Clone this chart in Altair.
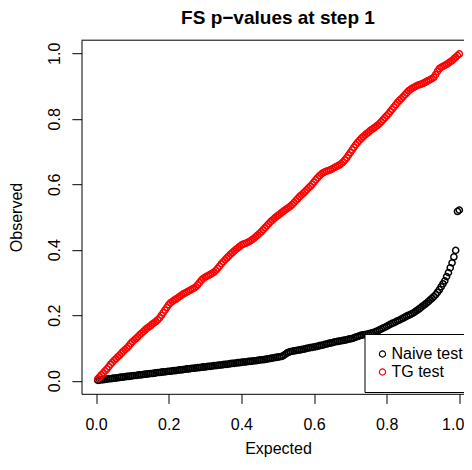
import altair as alt
import pandas as pd

# Expected (uniform) quantiles on the x axis
expected = [
    0.005, 0.010, 0.015, 0.020, 0.025, 0.030, 0.035, 0.040, 0.045, 0.050, 0.055, 0.060, 0.065, 0.070, 0.075, 0.080, 0.085, 0.090, 0.095, 0.100,
    0.105, 0.110, 0.115, 0.120, 0.125, 0.130, 0.135, 0.140, 0.145, 0.150, 0.155, 0.160, 0.165, 0.170, 0.175, 0.180, 0.185, 0.190, 0.195, 0.200,
    0.205, 0.210, 0.215, 0.220, 0.225, 0.230, 0.235, 0.240, 0.245, 0.250, 0.255, 0.260, 0.265, 0.270, 0.275, 0.280, 0.285, 0.290, 0.295, 0.300,
    0.305, 0.310, 0.315, 0.320, 0.325, 0.330, 0.335, 0.340, 0.345, 0.350, 0.355, 0.360, 0.365, 0.370, 0.375, 0.380, 0.385, 0.390, 0.395, 0.400,
    0.405, 0.410, 0.415, 0.420, 0.425, 0.430, 0.435, 0.440, 0.445, 0.450, 0.455, 0.460, 0.465, 0.470, 0.475, 0.480, 0.485, 0.490, 0.495, 0.500,
    0.505, 0.510, 0.515, 0.520, 0.525, 0.530, 0.535, 0.540, 0.545, 0.550, 0.555, 0.560, 0.565, 0.570, 0.575, 0.580, 0.585, 0.590, 0.595, 0.600,
    0.605, 0.610, 0.615, 0.620, 0.625, 0.630, 0.635, 0.640, 0.645, 0.650, 0.655, 0.660, 0.665, 0.670, 0.675, 0.680, 0.685, 0.690, 0.695, 0.700,
    0.705, 0.710, 0.715, 0.720, 0.725, 0.730, 0.735, 0.740, 0.745, 0.750, 0.755, 0.760, 0.765, 0.770, 0.775, 0.780, 0.785, 0.790, 0.795, 0.800,
    0.805, 0.810, 0.815, 0.820, 0.825, 0.830, 0.835, 0.840, 0.845, 0.850, 0.855, 0.860, 0.865, 0.870, 0.875, 0.880, 0.885, 0.890, 0.895, 0.900,
    0.905, 0.910, 0.915, 0.920, 0.925, 0.930, 0.935, 0.940, 0.945, 0.950, 0.955, 0.960, 0.965, 0.970, 0.975, 0.980, 0.985, 0.990, 0.995, 1.000,
]

# Observed sorted p-values, naive test (black)
naive = [
    0.001, 0.002, 0.003, 0.003, 0.004, 0.005, 0.006, 0.006, 0.007, 0.008, 0.008, 0.009, 0.010, 0.011, 0.011, 0.012, 0.013, 0.013, 0.014, 0.015,
    0.016, 0.016, 0.017, 0.018, 0.018, 0.019, 0.020, 0.020, 0.021, 0.022, 0.022, 0.023, 0.024, 0.025, 0.025, 0.026, 0.027, 0.027, 0.028, 0.029,
    0.029, 0.030, 0.031, 0.031, 0.032, 0.033, 0.033, 0.034, 0.035, 0.036, 0.036, 0.037, 0.038, 0.038, 0.039, 0.040, 0.040, 0.041, 0.042, 0.042,
    0.043, 0.044, 0.044, 0.045, 0.046, 0.046, 0.047, 0.048, 0.048, 0.049, 0.050, 0.050, 0.051, 0.052, 0.053, 0.053, 0.054, 0.055, 0.055, 0.056,
    0.057, 0.057, 0.058, 0.059, 0.059, 0.060, 0.061, 0.061, 0.062, 0.063, 0.064, 0.064, 0.065, 0.066, 0.067, 0.068, 0.069, 0.070, 0.071, 0.072,
    0.073, 0.074, 0.076, 0.080, 0.084, 0.087, 0.089, 0.090, 0.091, 0.092, 0.093, 0.094, 0.095, 0.096, 0.097, 0.099, 0.100, 0.101, 0.102, 0.103,
    0.104, 0.105, 0.107, 0.108, 0.109, 0.111, 0.112, 0.114, 0.115, 0.116, 0.118, 0.119, 0.120, 0.121, 0.122, 0.123, 0.124, 0.125, 0.127, 0.128,
    0.129, 0.131, 0.133, 0.135, 0.137, 0.139, 0.140, 0.141, 0.142, 0.143, 0.145, 0.146, 0.148, 0.150, 0.152, 0.155, 0.158, 0.161, 0.163, 0.166,
    0.169, 0.172, 0.175, 0.177, 0.180, 0.183, 0.185, 0.188, 0.191, 0.194, 0.197, 0.200, 0.202, 0.205, 0.208, 0.212, 0.216, 0.220, 0.224, 0.229,
    0.233, 0.237, 0.242, 0.247, 0.252, 0.257, 0.263, 0.270, 0.278, 0.287, 0.296, 0.305, 0.318, 0.330, 0.345, 0.360, 0.378, 0.398, 0.517, 0.521,
]

# Observed sorted p-values, TG test (red)
tg = [
    0.006, 0.012, 0.018, 0.024, 0.030, 0.036, 0.043, 0.050, 0.056, 0.062, 0.067, 0.073, 0.078, 0.084, 0.090, 0.095, 0.100, 0.106, 0.113, 0.119,
    0.124, 0.129, 0.134, 0.140, 0.145, 0.150, 0.155, 0.160, 0.164, 0.168, 0.173, 0.177, 0.181, 0.186, 0.192, 0.200, 0.208, 0.216, 0.224, 0.232,
    0.238, 0.242, 0.246, 0.249, 0.253, 0.257, 0.261, 0.265, 0.268, 0.271, 0.274, 0.277, 0.280, 0.283, 0.287, 0.293, 0.300, 0.307, 0.312, 0.316,
    0.319, 0.322, 0.325, 0.328, 0.332, 0.337, 0.343, 0.350, 0.357, 0.363, 0.369, 0.375, 0.380, 0.386, 0.391, 0.396, 0.401, 0.405, 0.410, 0.414,
    0.417, 0.419, 0.421, 0.424, 0.427, 0.431, 0.435, 0.440, 0.445, 0.450, 0.455, 0.461, 0.467, 0.473, 0.479, 0.485, 0.490, 0.495, 0.500, 0.504,
    0.508, 0.513, 0.517, 0.521, 0.525, 0.529, 0.533, 0.538, 0.544, 0.550, 0.556, 0.562, 0.567, 0.572, 0.577, 0.583, 0.589, 0.594, 0.600, 0.607,
    0.614, 0.620, 0.626, 0.631, 0.635, 0.638, 0.640, 0.642, 0.644, 0.647, 0.650, 0.653, 0.656, 0.659, 0.663, 0.668, 0.674, 0.681, 0.689, 0.697,
    0.705, 0.713, 0.721, 0.728, 0.734, 0.740, 0.745, 0.750, 0.755, 0.759, 0.764, 0.768, 0.772, 0.776, 0.780, 0.785, 0.791, 0.797, 0.803, 0.809,
    0.815, 0.822, 0.829, 0.836, 0.843, 0.850, 0.856, 0.861, 0.867, 0.873, 0.879, 0.885, 0.889, 0.893, 0.896, 0.899, 0.902, 0.904, 0.906, 0.908,
    0.911, 0.914, 0.917, 0.920, 0.923, 0.927, 0.935, 0.945, 0.953, 0.957, 0.960, 0.963, 0.966, 0.970, 0.974, 0.978, 0.983, 0.988, 0.993, 0.998,
]

title_text = "FS p\u2212values at step 1"
series_names = ["Naive test", "TG test"]
series_colors = ["black", "red"]
x_ticks = [0.0, 0.2, 0.4, 0.6, 0.8, 1.0]
y_ticks = [0.0, 0.2, 0.4, 0.6, 0.8, 1.0]

rows = []
for name, vals in zip(series_names, [naive, tg]):
    for e, o in zip(expected, vals):
        rows.append({"Expected": e, "Observed": o, "test": name})
df = pd.DataFrame(rows)

FONT = "Liberation Sans"
W, H = 382.5, 353.6          # plot area; whole svg = 456 x 450
X_MAX = -0.04 + W / 363.3    # keeps 363.3 px per unit, box runs off the right edge

points = alt.Chart(df).mark_point(
    filled=False, size=38, strokeWidth=1.5, opacity=1, clip=True
).encode(
    x=alt.X(
        "Expected:Q",
        scale=alt.Scale(domain=[-0.04, X_MAX], nice=False, zero=False),
        axis=alt.Axis(
            values=x_ticks, format=".1f", title="Expected", grid=False,
            domain=True, domainColor="black", domainWidth=1,
            ticks=True, tickColor="black", tickSize=9.6, tickWidth=1,
            labelPadding=13, labelFontSize=16, labelFont=FONT, labelColor="black",
            labelFlush=6, labelFlushOffset=4.5, labelOverlap=False, labelBaseline="top",
            titleFontSize=16, titleFont=FONT, titleFontWeight="normal", titleColor="black",
            titleX=196.5, titleY=63, titleBaseline="bottom", titleAlign="center",
        ),
    ),
    y=alt.Y(
        "Observed:Q",
        scale=alt.Scale(domain=[-0.04, 1.04], nice=False, zero=False),
        axis=alt.Axis(
            values=y_ticks, format=".1f", title="Observed", grid=False,
            domain=True, domainColor="black", domainWidth=1,
            ticks=True, tickColor="black", tickSize=9.6, tickWidth=1,
            labelAngle=270, labelAlign="center", labelBaseline="bottom",
            labelPadding=9, labelFontSize=16, labelFont=FONT, labelColor="black",
            labelFlush=False, labelOverlap=False,
            titleFontSize=16, titleFont=FONT, titleFontWeight="normal", titleColor="black",
            titleAngle=270, titleX=-65.5, titleY=H / 2, titleBaseline="middle", titleAlign="center",
        ),
    ),
    color=alt.Color(
        "test:N",
        scale=alt.Scale(domain=series_names, range=series_colors),
        legend=alt.Legend(
            title=None, orient="none", legendX=283.0, legendY=293.8,
            strokeColor="black", fillColor="white", padding=12,
            symbolType="circle", symbolSize=38, symbolStrokeWidth=1.2,
            symbolOffset=-2,
            labelFontSize=16, labelFont=FONT, labelColor="black",
            labelOffset=1, rowPadding=2,
        ),
    ),
)

top_border = alt.Chart(pd.DataFrame({"k": [0]})).mark_rule(
    color="black", strokeWidth=1
).encode(x=alt.value(0), x2=alt.value(W), y=alt.value(0))

title_mark = alt.Chart(pd.DataFrame({"t": [title_text]})).mark_text(
    font=FONT, fontSize=19, fontWeight="bold", color="black",
    align="center", baseline="alphabetic",
).encode(text="t:N", x=alt.value(196.5), y=alt.value(-16.6))

chart = alt.layer(points, top_border, title_mark).properties(
    width=W,
    height=H,
    padding={"left": 73.5, "top": 32.2, "right": 0, "bottom": 64.2},
    autosize=alt.AutoSizeParams(type="none"),
).configure_view(stroke=None)

chart.save("out.html", embed_options={"renderer": "svg", "actions": False})
